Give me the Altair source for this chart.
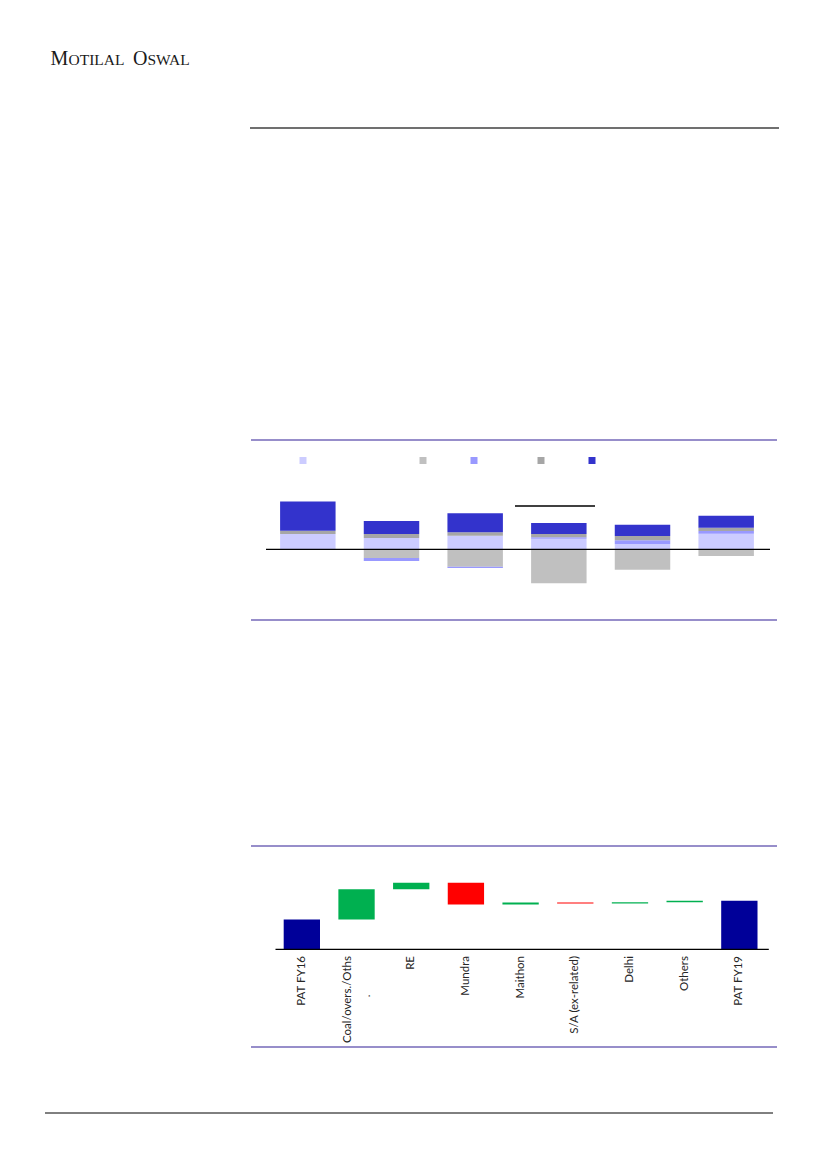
import altair as alt
import pandas as pd

# ---------------- data: top stacked chart ----------------
years = ["FY14", "FY15", "FY16", "FY17E", "FY18E", "FY19E"]
series = ["Standalone", "Mundra", "Maithon", "Delhi", "Coal & others"]
series_colors = ["#ccccff", "#c0c0c0", "#9999ff", "#a6a6a6", "#3333cc"]
standalone = [5.1, 3.8, 4.5, 3.5, 1.8, 5.2]
mundra = [0.0, -2.9, -5.8, -11.3, -6.8, -2.2]
maithon = [0.0, -1.0, -0.4, 0.5, 1.2, 0.9]
delhi = [1.1, 1.3, 1.2, 1.1, 1.4, 1.1]
coal = [9.7, 4.3, 6.3, 3.7, 3.8, 4.0]

# ---------------- data: waterfall ----------------
wf_cats = ["PAT FY16", "Coal/overs./Oths", "RE", "Mundra", "Maithon",
           "S/A (ex-related)", "Delhi", "Others", "PAT FY19"]
wf_cats_line2 = ["", ".", "", "", "", "", "", "", ""]
wf_vals = [9.9, 10.1, 2.2, -7.3, 0.7, -0.3, 0.4, 0.5]  # last total computed

# ---------------- build tables ----------------
rows = []
for si, (name, vals) in enumerate(zip(series, [standalone, mundra, maithon, delhi, coal])):
    for y, v in zip(years, vals):
        rows.append({"year": y, "series": name, "value": v, "order": si})
top_df = pd.DataFrame(rows)

wf_rows = []
run = 0.0
for i, c in enumerate(wf_cats[:-1]):
    v = wf_vals[i]
    if i == 0:
        wf_rows.append({"cat": c, "start": 0.0, "end": v, "kind": "total"})
        run = v
    else:
        wf_rows.append({"cat": c, "start": run, "end": run + v,
                        "kind": "increase" if v >= 0 else "decrease"})
        run += v
wf_rows.append({"cat": wf_cats[-1], "start": 0.0, "end": run, "kind": "total"})
wf_df = pd.DataFrame(wf_rows)
wf_df["line2"] = wf_cats_line2

dummy = pd.DataFrame({"d": [0]})
O = 8  # page margin; chart coords = page coords - 8

def hrule(x1, x2, y, color, width):
    return alt.Chart(dummy).mark_rule(color=color, strokeWidth=width).encode(
        x=alt.value(x1 - O), x2=alt.value(x2 - O), y=alt.value(y - O))

def txt(s, x, y, size, align="left"):
    return alt.Chart(pd.DataFrame({"t": [s]})).mark_text(
        font="Liberation Serif", fontSize=size, color="#1a1a1a", align=align,
        baseline="alphabetic").encode(text="t:N", x=alt.value(x - O), y=alt.value(y - O))

# ---------------- header ----------------
header = [
    txt("M", 50.5, 64.5, 20),
    txt("OTILAL", 68.5, 64.5, 15.5),
    txt("O", 133, 64.5, 20),
    txt("SWAL", 147.5, 64.5, 15.5),
]
page_rules = [
    hrule(250, 779, 128, "#404040", 1.5),
    hrule(45, 773, 1113, "#000000", 1),
    hrule(251, 777, 440, "#7469b8", 1.3),
    hrule(251, 777, 620, "#7469b8", 1.3),
    hrule(251, 777, 846, "#7469b8", 1.3),
    hrule(251, 777, 1047, "#7469b8", 1.3),
]

# ---------------- top chart ----------------
top_x = alt.Scale(domain=years, range=[266 - O, 768 - O], paddingInner=0.337, paddingOuter=0.1685)
top_y = alt.Scale(domain=[-20, 20], range=[609.3 - O, 489.3 - O], nice=False, zero=False)
top_color = alt.Scale(domain=series, range=series_colors)

top_bars = alt.Chart(top_df).mark_bar().encode(
    x=alt.X("year:N", scale=top_x, axis=None, sort=years),
    y=alt.Y("sum(value):Q", scale=top_y, axis=None, stack="zero"),
    color=alt.Color("series:N", scale=top_color, legend=None),
    order=alt.Order("order:Q", sort="ascending"),
)
top_zero = hrule(266, 770, 549.3, "#000000", 1.3)
top_mark_line = hrule(515, 595, 506, "#000000", 1.5)

legend_x = [303, 423, 474, 541, 592]
legend_layers = []
for s, c, lx in zip(series, series_colors, legend_x):
    legend_layers.append(
        alt.Chart(pd.DataFrame({"series": [s]})).mark_square(size=49, opacity=1, color=c).encode(
            x=alt.value(lx - O), y=alt.value(460.5 - O))
    )

# ---------------- waterfall ----------------
wf_x = alt.Scale(domain=wf_cats, range=[274.5 - O, 766.7 - O], paddingInner=0.336, paddingOuter=0.168)
wf_y = alt.Scale(domain=[0, 30], range=[949.3 - O, 859.3 - O], nice=False, zero=False)
wf_color = alt.Scale(domain=["total", "increase", "decrease"], range=["#000099", "#00b050", "#ff0000"])

wf_bars = alt.Chart(wf_df).mark_bar().encode(
    x=alt.X("cat:N", scale=wf_x, axis=None, sort=wf_cats),
    y=alt.Y("start:Q", scale=wf_y, axis=None),
    y2="end:Q",
    color=alt.Color("kind:N", scale=wf_color, legend=None),
)
lab_style = dict(angle=270, baseline="middle", font="Lato", fontSize=11.5, color="#262626")
wf_labels_single = alt.Chart(wf_df).transform_filter("datum.line2 == ''").mark_text(
    align="right", **lab_style).encode(
    x=alt.X("cat:N", scale=wf_x, axis=None, sort=wf_cats),
    y=alt.value(956 - O),
    text="cat:N",
)
# two-line label: dy is applied in the rotated frame, i.e. horizontally on screen
wf_labels_first = alt.Chart(wf_df).transform_filter("datum.line2 != ''").mark_text(
    align="right", dy=-9, **lab_style).encode(
    x=alt.X("cat:N", scale=wf_x, axis=None, sort=wf_cats),
    y=alt.value(956 - O),
    text="cat:N",
)
wf_labels_second = alt.Chart(wf_df).transform_filter("datum.line2 != ''").mark_text(
    align="center", dy=10, **lab_style).encode(
    x=alt.X("cat:N", scale=wf_x, axis=None, sort=wf_cats),
    y=alt.value(996 - O),
    text="line2:N",
)
wf_zero = hrule(275.5, 768.8, 949.3, "#000000", 1.3)

layers = (header + page_rules + [top_bars, top_zero, top_mark_line] + legend_layers
          + [wf_bars, wf_zero, wf_labels_single, wf_labels_first, wf_labels_second])

chart = alt.layer(*layers).resolve_scale(
    x="independent", y="independent", color="independent"
).properties(
    width=811, height=1153, padding=0,
    autosize=alt.AutoSizeParams(type="none"),
).configure_view(stroke=None)

chart.save("out.html", embed_options={"renderer": "svg", "actions": False})
